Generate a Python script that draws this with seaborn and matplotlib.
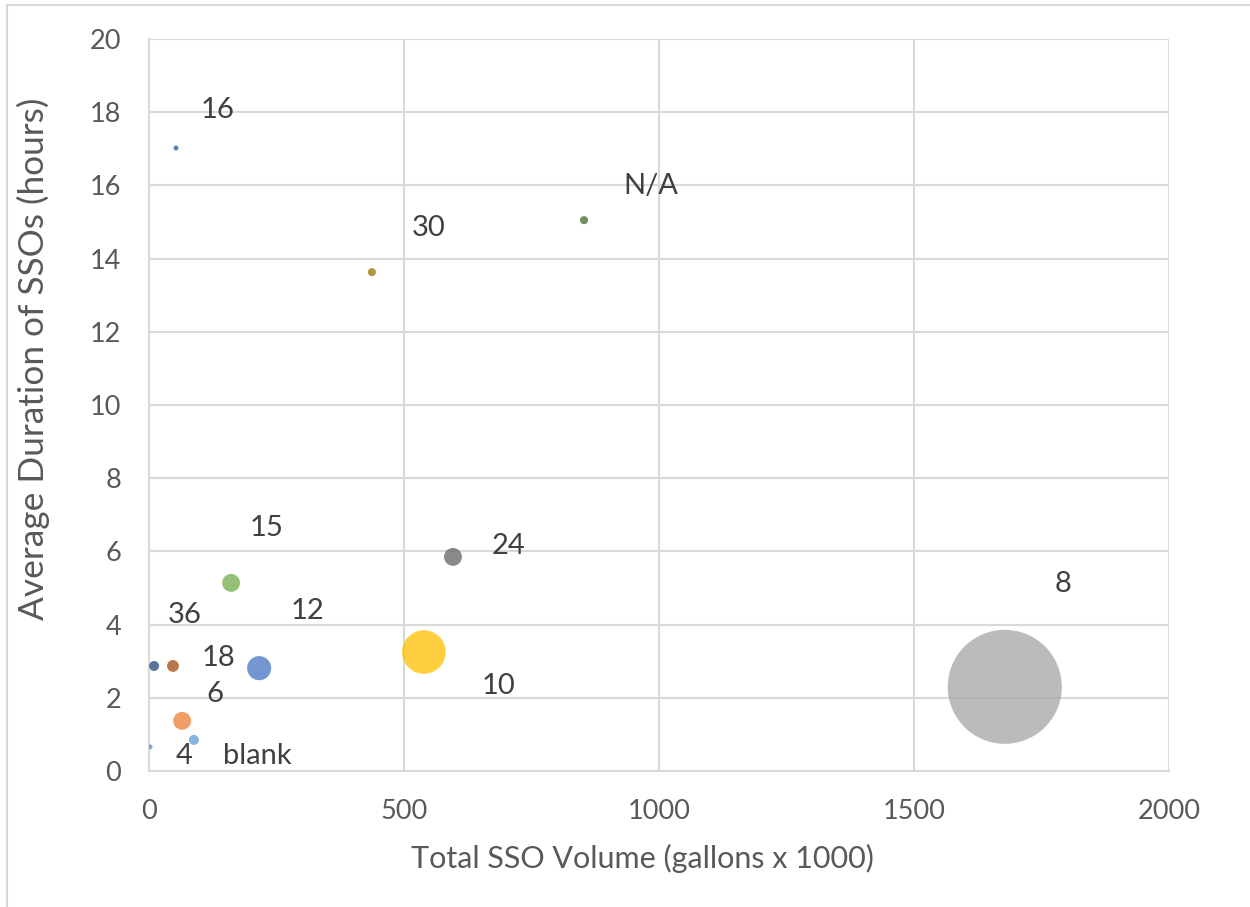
import matplotlib
matplotlib.use("Agg")
import matplotlib.pyplot as plt
from matplotlib.lines import Line2D
import seaborn as sns
import pandas as pd

# Pipe diameter groups (inches) with SSO totals and durations
labels = ["12", "6", "8", "10", "blank", "15", "36", "18", "24", "30", "16", "N/A", "4"]
volume = [216, 65, 1678, 539, 88, 161, 10, 47, 596, 437, 53, 853, 2]          # gallons x 1000
duration = [2.81, 1.37, 2.30, 3.25, 0.85, 5.14, 2.87, 2.87, 5.85, 13.63, 17.02, 15.05, 0.66]  # hours
events = [5.8, 3.2, 130, 19, 1.0, 3.2, 1.0, 1.4, 3.2, 0.65, 0.25, 0.65, 0.25]   # bubble size
colors = ["#4472C4", "#ED7D31", "#A5A5A5", "#FFC000", "#5B9BD5", "#70AD47",
          "#264478", "#9E480E", "#636363", "#997300", "#255E91", "#43682B", "#698ED0"]

# label offsets from bubble centre, in pixels (x right, y up)
label_dx = [48, 33, 58, 75, 63, 35, 31, 46, 56, 57, 42, 67, 34]
label_dy = [57, 27, 103, -34, -16, 55, 51, 8, 11, 44, 38, 34, -9]

x_ticks = [0, 500, 1000, 1500, 2000]
y_ticks = list(range(0, 21, 2))

df = pd.DataFrame({"label": labels, "volume": volume, "duration": duration, "events": events})

sns.set_theme(style="whitegrid")
plt.rcParams["font.family"] = ["Lato", "DejaVu Sans"]

fig = plt.figure(figsize=(12.5, 9.07), dpi=100)
ax = fig.add_axes([149 / 1250, 136 / 907, 1020 / 1250, 732 / 907])

sns.scatterplot(
    data=df, x="volume", y="duration", hue="label", size="events",
    palette=dict(zip(labels, colors)), sizes=(0, 6740), size_norm=(0, max(events)),
    alpha=0.75, linewidth=0, legend=False, ax=ax, zorder=3,
)

for lab, xv, yv, dx, dy in zip(labels, volume, duration, label_dx, label_dy):
    ax.annotate(lab, (xv, yv), xytext=(dx, dy), textcoords="offset pixels",
                ha="center", va="center", fontsize=21, color="#404040", zorder=4)

ax.set_xlim(0, 2000)
ax.set_ylim(0, 20)
ax.set_xticks(x_ticks)
ax.set_yticks(y_ticks)
ax.tick_params(axis="both", labelsize=19.5, labelcolor="#595959", length=0)
ax.tick_params(axis="x", pad=20)
ax.tick_params(axis="y", pad=20)
ax.grid(True, color="#D9D9D9", linewidth=1.5)
ax.set_axisbelow(True)
for side in ["top", "right"]:
    ax.spines[side].set_visible(False)
for side in ["left", "bottom"]:
    ax.spines[side].set_color("#D9D9D9")
    ax.spines[side].set_linewidth(1.5)

ax.set_xlabel("Total SSO Volume (gallons x 1000)", fontsize=22, color="#595959")
ax.set_ylabel("Average Duration of SSOs (hours)", fontsize=25.4, color="#595959")
ax.xaxis.set_label_coords(0.484, -0.1)
ax.yaxis.set_label_coords(-0.097, 0.563)

# outer chart frame
fig.add_artist(Line2D([7 / 1250, 1.0], [1 - 5 / 907, 1 - 5 / 907], color="#D9D9D9",
                      linewidth=1.5, transform=fig.transFigure))
fig.add_artist(Line2D([7 / 1250, 7 / 1250], [0, 1 - 5 / 907], color="#D9D9D9",
                      linewidth=1.5, transform=fig.transFigure))

fig.savefig("out.png", dpi=100, facecolor="white")
